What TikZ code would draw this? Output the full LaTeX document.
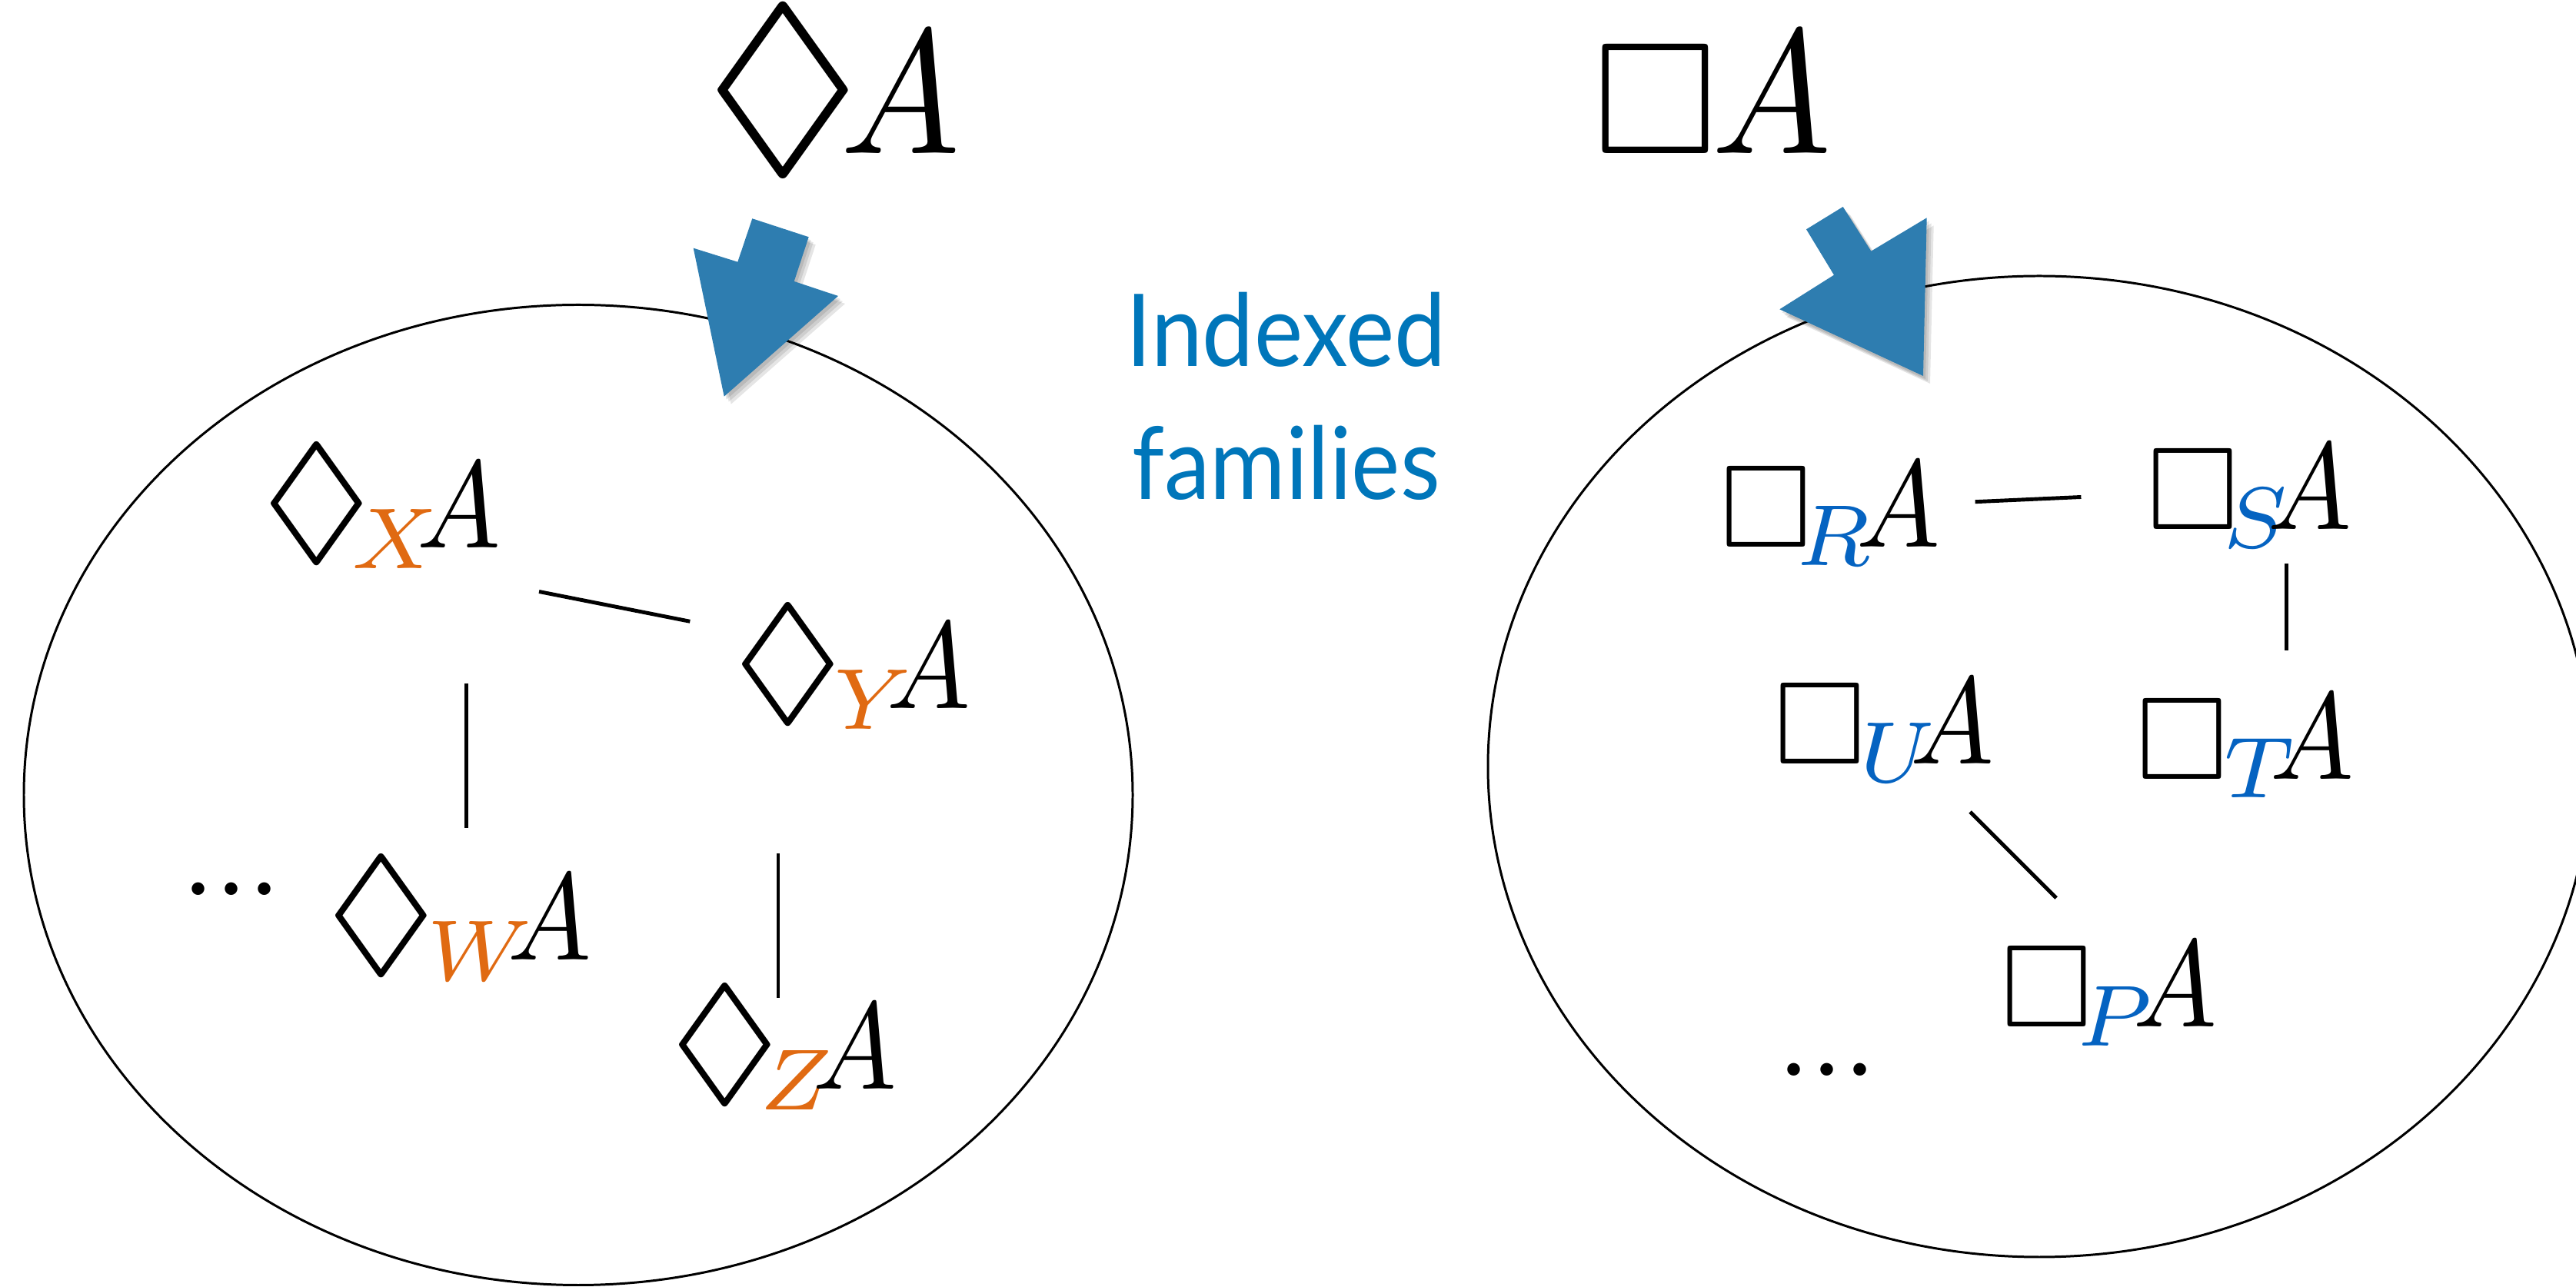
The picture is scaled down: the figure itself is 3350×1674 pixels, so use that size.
\documentclass[tikz,border=0pt]{standalone}
\usepackage{amssymb}
\usepackage{graphicx}
\usepackage{fontspec}
\newfontfamily\labelfont[FakeStretch=0.915]{Lato}
\definecolor{idxorange}{HTML}{E06A12}
\definecolor{idxblue}{HTML}{0563C1}
\definecolor{labelblue}{HTML}{0076BA}
\definecolor{arrowblue}{HTML}{2E7DB0}
% modal formulas at the two sizes used in the picture
\newcommand{\topsym}[1]{\scalebox{6.54}{$#1$}}
\newcommand{\famsym}[1]{\scalebox{4.58}{$#1$}}
% glyphs: a wide possibility diamond, the necessity box, a narrow A
\newcommand{\posdia}{\mathord{\raisebox{0.016em}{\scalebox{1.33}[1.18]{$\lozenge$}}}}
\newcommand{\necbox}[1][0.95]{\mathord{\scalebox{#1}{$\Box$}}}
\newcommand{\atom}{\mathord{\scalebox{0.9}[1]{$A$}}}
% indexed modalities: #1 index, #2 kern before the index, #3 kern before A (mu)
\newcommand{\dsub}[3]{{\posdia\mkern#2mu}_{\textcolor{idxorange}{#1}}\mkern#3mu \atom}
\newcommand{\bsub}[3]{{\necbox\mkern#2mu}_{\textcolor{idxblue}{#1}}\mkern#3mu \atom}
\newcommand{\moredots}{\scalebox{4.4}{...}}

\begin{document}
\begin{tikzpicture}[x=0.01cm,y=-0.01cm,
  sym/.style={inner sep=0pt,outer sep=0pt,anchor=base west},
  caption/.style={inner sep=0pt,outer sep=0pt,anchor=base,text=labelblue,
    font=\labelfont\fontsize{37.2pt}{45pt}\selectfont},
  link/.style={line width=1.4pt},
  family/.style={line width=0.85pt},
  pointer/.style={fill=arrowblue},
  pointershade/.style={fill=black,opacity=0.10}]
\useasboundingbox (0,0) rectangle (3350,1674);
\clip (0,0) rectangle (3350,1674);

% the two families
\draw[family] (752,1034) ellipse [x radius=721, y radius=637.5];
\draw[family] (2652,997) ellipse [x radius=717, y radius=638];

% headline formulas
\node[sym] (dia) at (916,200) {\topsym{\posdia\mkern-2.1mu \atom}};
\node[sym] (box) at (2072,200) {\topsym{\necbox[0.9]\mkern-0.5mu \atom}};

% caption between the families
\node[caption] (cap1) at (1672.5,476.7) {Indexed};
\node[caption] (cap2) at (1672.5,650) {families};

% left family
\node[sym] (dX) at (340,712.6) {\famsym{\dsub{X}{-2.9}{-4.1}}};
\node[sym] (dY) at (953,922) {\famsym{\dsub{Y}{-1.4}{-4.6}}};
\node[sym] (dW) at (424,1249) {\famsym{\dsub{W}{-1.4}{-4.5}}};
\node[sym] (dZ) at (871,1417) {\famsym{\dsub{Z}{-2.9}{-3.8}}};
\node[sym] (ldots) at (236,1165) {\moredots};

% right family
\node[sym] (bR) at (2237,711.8) {\famsym{\bsub{R}{-2.3}{-3.0}}};
\node[sym] (bS) at (2792,688.8) {\famsym{\bsub{S}{-2.3}{-3.8}}};
\node[sym] (bU) at (2307,993.4) {\famsym{\bsub{U}{-0.9}{-4.6}}};
\node[sym] (bT) at (2778,1013.8) {\famsym{\bsub{T}{-0.6}{-4.5}}};
\node[sym] (bP) at (2602,1336) {\famsym{\bsub{P}{-2.3}{-3.7}}};
\node[sym] (rdots) at (2311,1400) {\moredots};

% links between members
\coordinate (xy1) at (701,769.5);   \coordinate (xy2) at (897.3,808.3);
\coordinate (xw1) at (606.5,889);   \coordinate (xw2) at (606.5,1077);
\coordinate (yz1) at (1012,1110);   \coordinate (yz2) at (1012,1298);
\coordinate (rs1) at (2568.6,652.7); \coordinate (rs2) at (2706.4,646.5);
\coordinate (st1) at (2973.6,733);  \coordinate (st2) at (2973.6,846);
\coordinate (up1) at (2562,1056);   \coordinate (up2) at (2674,1168);
\draw[link] (xy1) -- (xy2);
\draw[link] (xw1) -- (xw2);
\draw[link] (yz1) -- (yz2);
\draw[link] (rs1) -- (rs2);
\draw[link] (st1) -- (st2);
\draw[link] (up1) -- (up2);

% block arrows into the families
\foreach \dx/\dy in {3/4,6/7,9/10}{
  \fill[pointershade,shift={(\dx,\dy)}]
    (978.3,284.3) -- (1051.7,308.3) -- (1032.7,366) -- (1090,385)
    -- (941.7,515.7) -- (901.7,322.7) -- (959.3,340.7) -- cycle;
  \fill[pointershade,shift={(\dx,\dy)}]
    (2396.7,269) -- (2349,298.3) -- (2385,357.7) -- (2314.3,402.3)
    -- (2501,489) -- (2505.7,283.3) -- (2433.3,326.7) -- cycle;
}
\fill[pointer] (978.3,284.3) -- (1051.7,308.3) -- (1032.7,366) -- (1090,385)
  -- (941.7,515.7) -- (901.7,322.7) -- (959.3,340.7) -- cycle;
\fill[pointer] (2396.7,269) -- (2349,298.3) -- (2385,357.7) -- (2314.3,402.3)
  -- (2501,489) -- (2505.7,283.3) -- (2433.3,326.7) -- cycle;
\end{tikzpicture}
\end{document}
